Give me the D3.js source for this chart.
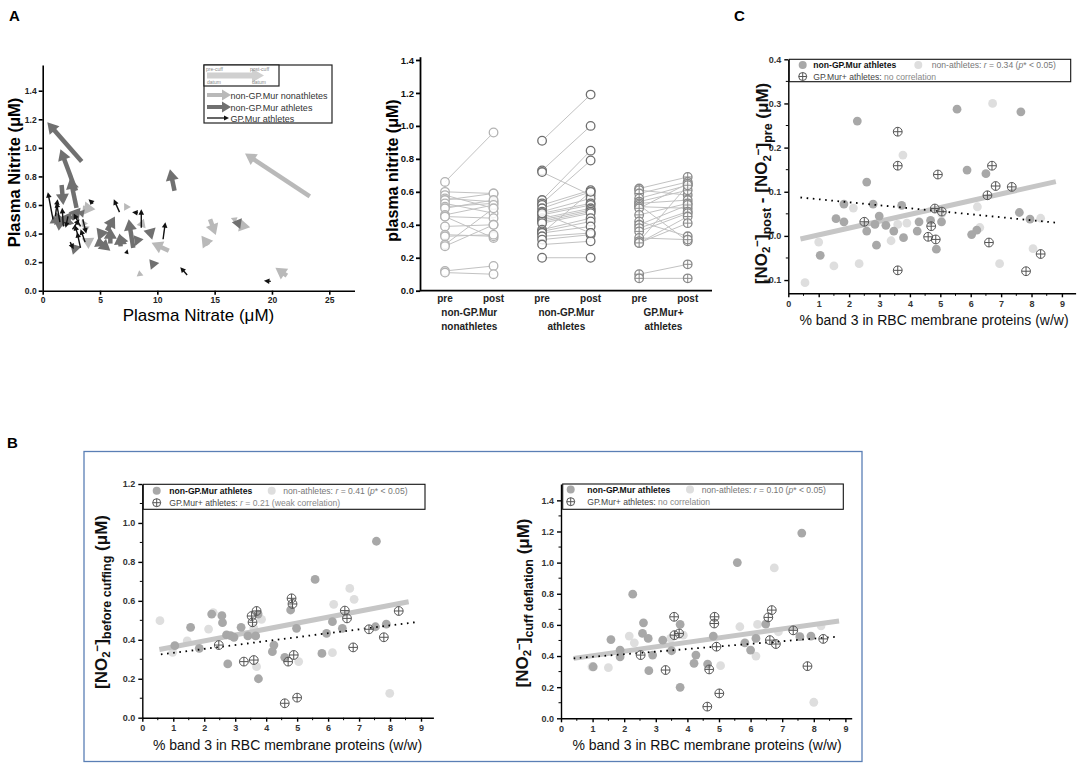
<!DOCTYPE html>
<html><head><meta charset="utf-8">
<script src="https://cdn.jsdelivr.net/npm/d3@7"></script>
<style>body{margin:0;background:#fff}svg{display:block}</style>
</head><body><svg id="c" width="1084" height="767"></svg>
<script>
// ================= DATA =================
// Panel A (left): arrows [nitrate pre, nitrite pre, nitrate post, nitrite post]
const arrowsNonathletes = [
  [23.3,0.66,17.65,0.96],[21.3,0.105,20.3,0.16],[8.6,0.125,8.2,0.10],[11.0,0.28,9.5,0.335],
  [14.6,0.50,15.1,0.39],[14.45,0.32,13.85,0.385],[17.1,0.46,18.1,0.445],[16.6,0.49,17.0,0.515],
  [7.4,0.60,7.1,0.56],[8.9,0.47,8.2,0.46],[3.5,0.58,4.6,0.57],[3.7,0.33,4.5,0.37],
  [3.4,0.47,3.95,0.47],[3.6,0.43,4.1,0.45]
];
const arrowsAthletes = [
  [3.4,0.905,0.4,1.18],[2.9,0.70,1.55,0.99],[2.95,0.58,2.4,0.79],[11.5,0.70,11.1,0.85],
  [1.65,0.74,1.8,0.60],[1.6,0.52,1.0,0.46],[1.5,0.51,1.4,0.42],[1.9,0.48,2.5,0.55],
  [2.5,0.50,3.3,0.58],[3.0,0.28,2.4,0.33],[5.3,0.38,4.7,0.44],[5.6,0.42,6.3,0.52],
  [5.0,0.31,4.9,0.38],[5.9,0.33,5.9,0.44],[5.0,0.34,5.9,0.28],[6.8,0.31,6.7,0.40],
  [7.1,0.37,6.6,0.32],[7.9,0.30,7.5,0.50],[8.0,0.35,8.8,0.36],[9.7,0.40,8.8,0.42],
  [9.8,0.17,9.3,0.22],[17.3,0.47,16.5,0.48],[1.2,0.50,0.6,0.47],[3.6,0.54,3.0,0.55],
  [2.3,0.46,2.1,0.52]
];
const arrowsGPMur = [
  [0.9,0.50,0.45,0.69],[1.1,0.52,1.3,0.64],[1.5,0.48,1.2,0.62],[1.8,0.45,1.7,0.58],
  [2.2,0.52,2.0,0.44],[2.6,0.43,3.2,0.50],[3.3,0.45,2.7,0.54],[3.3,0.30,3.0,0.41],
  [3.7,0.34,3.3,0.43],[3.1,0.38,2.8,0.46],[4.4,0.61,4.0,0.64],[6.7,0.55,6.2,0.64],
  [8.3,0.545,7.8,0.55],[8.6,0.44,8.6,0.57],[10.5,0.36,10.7,0.48],[12.6,0.11,12.0,0.165],
  [19.9,0.065,19.3,0.07],[7.3,0.26,7.4,0.29],[2.4,0.34,2.7,0.29],[3.5,0.50,3.8,0.40]
];
const aLeftXTicks = [0,5,10,15,20,25];
const aLeftYTicks = [0,0.2,0.4,0.6,0.8,1.0,1.2,1.4];

// Panel A (right): pre/post plasma nitrite
const prePostCats = ["pre1","post1","pre2","post2","pre3","post3"];
const prePostLabels = ["pre","post","pre","post","pre","post"];
const groupNames = [["non-GP.Mur","nonathletes"],["non-GP.Mur","athletes"],["GP.Mur+","athletes"]];
const nonathletesPre  = [0.66,0.60,0.58,0.56,0.55,0.53,0.51,0.50,0.46,0.45,0.45,0.39,0.34,0.33,0.28,0.27,0.12,0.11];
const nonathletesPost = [0.96,0.59,0.50,0.54,0.59,0.47,0.53,0.55,0.52,0.44,0.32,0.40,0.33,0.34,0.50,0.40,0.15,0.10];
const athletesPre  = [0.91,0.73,0.72,0.55,0.53,0.52,0.50,0.48,0.47,0.46,0.44,0.43,0.42,0.41,0.37,0.36,0.35,0.35,0.33,0.31,0.28,0.20,0.47];
const athletesPost = [1.19,1.00,0.58,0.85,0.79,0.61,0.60,0.56,0.53,0.52,0.50,0.49,0.48,0.47,0.44,0.42,0.39,0.60,0.35,0.34,0.30,0.20,0.35];
const gpmurPre  = [0.62,0.61,0.59,0.56,0.54,0.53,0.52,0.51,0.50,0.46,0.42,0.40,0.38,0.36,0.32,0.30,0.29,0.29,0.10,0.075];
const gpmurPost = [0.69,0.58,0.66,0.64,0.61,0.55,0.30,0.50,0.65,0.53,0.33,0.52,0.48,0.47,0.31,0.64,0.45,0.41,0.16,0.075];

// Panel B (left): nitrite before cuffing vs % band 3
const bLeftAthletes = [[1.05,0.37],[1.56,0.464],[1.84,0.356],[2.24,0.532],[2.57,0.524],[2.59,0.488],[2.72,0.425],[2.76,0.276],[2.85,0.421],[2.96,0.413],[3.19,0.464],[3.41,0.42],[3.66,0.42],[3.74,0.532],[3.75,0.20],[4.2,0.339],[4.25,0.373],[4.6,0.31],[4.79,0.553],[4.98,0.459],[5.58,0.71],[5.8,0.33],[5.95,0.433],[6.14,0.493],[6.46,0.459],[7.53,0.467],[7.56,0.906],[7.88,0.48]];
const bLeftNonathletes = [[0.57,0.498],[0.98,0.336],[1.45,0.394],[2.14,0.455],[2.29,0.54],[3.6,0.46],[3.69,0.262],[3.85,0.505],[5.05,0.288],[6.14,0.334],[6.18,0.582],[6.7,0.664],[6.84,0.608],[7.99,0.125]];
const bLeftGPMur = [[2.47,0.373],[3.28,0.288],[3.53,0.522],[3.56,0.49],[3.6,0.296],[3.69,0.548],[4.6,0.074],[4.71,0.288],[4.82,0.613],[4.85,0.584],[4.89,0.322],[5.0,0.103],[6.54,0.55],[6.61,0.51],[6.81,0.361],[7.32,0.454],[7.8,0.413],[8.28,0.548]];
const bLeftFitSolid = [[0.55,0.35],[8.6,0.595]];
const bLeftFitDotted = [[0.6,0.325],[8.8,0.49]];
const bLeftYTicks = [0,0.2,0.4,0.6,0.8,1.0,1.2];

// Panel B (right): nitrite at cuff deflation vs % band 3
const bRightAthletes = [[1.02,0.331],[1.58,0.506],[1.87,0.395],[1.87,0.438],[2.27,0.797],[2.58,0.545],[2.61,0.613],[2.76,0.513],[2.78,0.306],[2.9,0.406],[3.22,0.502],[3.5,0.434],[3.77,0.603],[3.77,0.199],[4.21,0.353],[4.27,0.406],[4.64,0.348],[4.82,0.528],[5.58,1.0],[5.82,0.485],[6.0,0.438],[6.17,0.513],[6.48,0.605],[7.56,0.524],[7.62,1.19],[7.91,0.528]];
const bRightNonathletes = [[0.98,0.331],[1.5,0.325],[2.16,0.528],[2.32,0.485],[3.47,0.513],[3.87,0.534],[5.05,0.338],[5.66,0.588],[6.17,0.40],[6.22,0.603],[6.75,0.966],[6.88,0.556],[8.0,0.103],[8.23,0.594]];
const bRightGPMur = [[2.52,0.406],[3.31,0.31],[3.58,0.652],[3.59,0.534],[3.74,0.545],[4.63,0.075],[4.69,0.314],[4.85,0.609],[4.86,0.652],[4.92,0.46],[5.01,0.16],[6.56,0.648],[6.61,0.502],[6.67,0.695],[6.8,0.477],[7.35,0.565],[7.8,0.335],[8.3,0.51]];
const bRightFitSolid = [[0.4,0.385],[8.8,0.625]];
const bRightFitDotted = [[0.4,0.385],[8.8,0.525]];
const bRightYTicks = [0,0.2,0.4,0.6,0.8,1.0,1.2,1.4];

// Panel C: change in nitrite (post - pre) vs % band 3
const cAthletes = [[1.05,-0.044],[1.57,0.039],[1.83,0.032],[1.83,0.072],[2.27,0.26],[2.58,0.122],[2.58,0.011],[2.79,0.072],[2.85,0.026],[2.9,-0.021],[2.99,0.045],[3.21,0.024],[3.47,0.011],[3.73,0.069],[3.79,-0.004],[4.24,0.011],[4.3,0.032],[4.68,0.035],[4.87,-0.03],[5.04,0.032],[5.55,0.287],[5.88,0.149],[6.03,0.003],[6.2,0.013],[6.5,0.141],[7.6,0.053],[7.65,0.281],[7.95,0.038]];
const cNonathletes = [[0.55,-0.106],[1.0,-0.014],[1.5,-0.068],[2.14,0.063],[2.33,-0.063],[3.38,-0.011],[3.6,0.026],[3.77,0.183],[3.9,0.029],[5.05,0.05],[6.22,0.066],[6.3,0.019],[6.72,0.30],[6.95,-0.063],[8.05,-0.029],[8.3,0.04]];
const cGPMur = [[2.5,0.032],[3.6,0.236],[3.6,0.159],[3.6,-0.078],[4.6,-0.002],[4.7,0.022],[4.82,0.062],[4.85,-0.008],[4.92,0.139],[5.05,0.055],[6.55,0.092],[6.6,-0.015],[6.7,0.159],[6.82,0.113],[7.35,0.111],[7.82,-0.08],[8.3,-0.041]];
const cFitSolid = [[0.4,-0.007],[8.8,0.123]];
const cFitDotted = [[0.4,0.087],[8.8,0.03]];
const cYTicks = [-0.1,0,0.1,0.2,0.3,0.4];
const band3Ticks = [0,1,2,3,4,5,6,7,8,9];

// ================= DRAWING =================
const FONT = '"Liberation Sans", Arial, Helvetica, sans-serif';
const svg = d3.select("#c").attr("font-family", FONT);

const C_LIGHT = "#dedede", C_MED = "#a8a8a8", C_CROSS = "#555";

function styleAxis(g, size, weight, color, sw) {
  g.selectAll("text").attr("font-family", FONT).attr("font-size", size)
    .attr("font-weight", weight).attr("fill", color || "#222");
  g.selectAll("line,path").attr("stroke", "#000").attr("stroke-width", sw || 1.3);
}
function panelLabel(t, x, y) {
  svg.append("text").attr("x", x).attr("y", y).text(t)
    .attr("font-size", 15).attr("font-weight", "bold").attr("fill", "#000");
}

// ---------- Panel A left ----------
panelLabel("A", 9, 21);
{
  const x = d3.scaleLinear([0, 27.2], [42.7, 354.5]);
  const y = d3.scaleLinear([0, 1.58], [290.7, 65]);
  const gx = svg.append("g").attr("transform", "translate(0,290.7)")
    .call(d3.axisBottom(x).tickValues(aLeftXTicks).tickFormat(d3.format("d")).tickSize(4).tickSizeOuter(0).tickPadding(2.5));
  styleAxis(gx, 8.5, "bold", "#222", 1.6);
  const gy = svg.append("g").attr("transform", "translate(42.7,0)")
    .call(d3.axisLeft(y).tickValues(aLeftYTicks).tickFormat(d3.format(".1f")).tickSize(4).tickSizeOuter(0).tickPadding(2));
  styleAxis(gy, 8.5, "bold", "#222", 1.6);

  const g = svg.append("g");
  function arrow(gg, x0, y0, x1, y1, color, w, hl, hw) {
    const dx = x1 - x0, dy = y1 - y0, L = Math.hypot(dx, dy) || 1;
    const ux = dx / L, uy = dy / L;
    const h = Math.min(hl, L);
    const s = h / hl;
    const bx = x1 - ux * h, by = y1 - uy * h;
    if (L > h) gg.append("line").attr("x1", x0).attr("y1", y0).attr("x2", bx + ux * 1).attr("y2", by + uy * 1)
      .attr("stroke", color).attr("stroke-width", w);
    gg.append("polygon").attr("points",
      [[x1, y1], [bx - uy * hw * s, by + ux * hw * s], [bx + uy * hw * s, by - ux * hw * s]].map(p => p.join(",")).join(" "))
      .attr("fill", color);
  }
  arrowsNonathletes.forEach(a => arrow(g, x(a[0]), y(a[1]), x(a[2]), y(a[3]), "#b9b9b9", 4.5, 11, 6.5));
  arrowsAthletes.forEach(a => arrow(g, x(a[0]), y(a[1]), x(a[2]), y(a[3]), "#707070", 4.5, 11, 6.5));
  arrowsGPMur.forEach(a => arrow(g, x(a[0]), y(a[1]), x(a[2]), y(a[3]), "#111", 1.4, 5.5, 2.8));

  // legend
  const lg = svg.append("g");
  lg.append("rect").attr("x", 204).attr("y", 65).attr("width", 128).attr("height", 58)
    .attr("fill", "#fff").attr("stroke", "#222").attr("stroke-width", 1.2);
  lg.append("rect").attr("x", 204).attr("y", 65).attr("width", 75).attr("height", 21)
    .attr("fill", "#fff").attr("stroke", "#222").attr("stroke-width", 1.2);
  arrow(lg, 207, 75.5, 264, 75.5, "#d0d0d0", 6, 12, 7);
  const tiny = [["pre-cuff", 206, 70.5], ["post-cuff", 250, 70.5], ["datum", 207, 84], ["datum", 252, 84]];
  tiny.forEach(t => lg.append("text").attr("x", t[1]).attr("y", t[2]).text(t[0])
    .attr("font-size", 5).attr("fill", "#888"));
  arrow(lg, 207, 95, 231, 95, "#b9b9b9", 4, 9, 5.5);
  arrow(lg, 207, 107, 231, 107, "#707070", 4, 9, 5.5);
  arrow(lg, 207, 118, 229, 118, "#111", 1.3, 5, 2.5);
  [["non-GP.Mur nonathletes", 98.5], ["non-GP.Mur athletes", 110.5], ["GP.Mur athletes", 121.5]].forEach(t =>
    lg.append("text").attr("x", 230.5).attr("y", t[1]).text(t[0]).attr("font-size", 9).attr("fill", "#333"));

  svg.append("text").attr("x", 198.5).attr("y", 321).attr("text-anchor", "middle")
    .attr("font-size", 17).attr("fill", "#000").text("Plasma Nitrate (μM)");
  svg.append("text").attr("transform", "translate(14.5,172.5) rotate(-90)").attr("dy", "0.36em")
    .attr("text-anchor", "middle").attr("font-size", 16.5).attr("font-weight", "bold").attr("fill", "#000")
    .text("Plasma Nitrite (μM)");
}

// ---------- Panel A right ----------
{
  const x = d3.scalePoint(prePostCats, [445, 687.7]);
  const y = d3.scaleLinear([0, 1.42], [290.7, 56.7]);
  const gy = svg.append("g").attr("transform", "translate(420,0)")
    .call(d3.axisLeft(y).tickValues([0,0.2,0.4,0.6,0.8,1.0,1.2,1.4]).tickFormat(d3.format(".1f")).tickSize(4).tickSizeOuter(0).tickPadding(2));
  styleAxis(gy, 9.5, "bold", "#111", 1.8);
  svg.append("line").attr("x1", 420).attr("x2", 712).attr("y1", 290.7).attr("y2", 290.7)
    .attr("stroke", "#000").attr("stroke-width", 1.8);

  const groups = [
    { pre: nonathletesPre, post: nonathletesPost, c: ["pre1", "post1"], col: "#b3b3b3", cross: false },
    { pre: athletesPre, post: athletesPost, c: ["pre2", "post2"], col: "#6f6f6f", cross: false },
    { pre: gpmurPre, post: gpmurPost, c: ["pre3", "post3"], col: "#8a8a8a", cross: true }
  ];
  const g = svg.append("g");
  groups.forEach(gr => {
    gr.pre.forEach((v, i) => g.append("line")
      .attr("x1", x(gr.c[0])).attr("y1", y(v)).attr("x2", x(gr.c[1])).attr("y2", y(gr.post[i]))
      .attr("stroke", "#c2c2c2").attr("stroke-width", 1));
  });
  groups.forEach(gr => {
    [[gr.pre, gr.c[0]], [gr.post, gr.c[1]]].forEach(([vals, cat]) => {
      vals.forEach(v => {
        const cx = x(cat), cy = y(v);
        g.append("circle").attr("cx", cx).attr("cy", cy).attr("r", 4.3)
          .attr("fill", "#fff").attr("fill-opacity", 0.85).attr("stroke", gr.col).attr("stroke-width", 1.3);
        if (gr.cross) {
          g.append("line").attr("x1", cx - 4.3).attr("x2", cx + 4.3).attr("y1", cy).attr("y2", cy).attr("stroke", gr.col).attr("stroke-width", 1);
          g.append("line").attr("x1", cx).attr("x2", cx).attr("y1", cy - 4.3).attr("y2", cy + 4.3).attr("stroke", gr.col).attr("stroke-width", 1);
        }
      });
    });
  });
  prePostCats.forEach((c, i) => svg.append("text").attr("x", x(c)).attr("y", 301.5)
    .attr("text-anchor", "middle").attr("font-size", 10).attr("font-weight", "bold").attr("fill", "#222").text(prePostLabels[i]));
  groupNames.forEach((gn, i) => {
    const cx = (x(prePostCats[2 * i]) + x(prePostCats[2 * i + 1])) / 2;
    svg.append("text").attr("x", cx).attr("y", 316).attr("text-anchor", "middle")
      .attr("font-size", 10).attr("font-weight", "bold").attr("fill", "#222").text(gn[0]);
    svg.append("text").attr("x", cx).attr("y", 330).attr("text-anchor", "middle")
      .attr("font-size", 10).attr("font-weight", "bold").attr("fill", "#222").text(gn[1]);
  });
  svg.append("text").attr("transform", "translate(392.5,170.5) rotate(-90)").attr("dy", "0.36em")
    .attr("text-anchor", "middle").attr("font-size", 16).attr("font-weight", "bold").attr("fill", "#000")
    .text("plasma nitrite (μM)");
}

// ---------- Scatter helper for B / C ----------
function crossCircle(g, cx, cy, r) {
  g.append("circle").attr("cx", cx).attr("cy", cy).attr("r", r).attr("fill", "none")
    .attr("stroke", C_CROSS).attr("stroke-width", 1);
  g.append("line").attr("x1", cx - r).attr("x2", cx + r).attr("y1", cy).attr("y2", cy).attr("stroke", C_CROSS).attr("stroke-width", 1);
  g.append("line").attr("x1", cx).attr("x2", cx).attr("y1", cy - r).attr("y2", cy + r).attr("stroke", C_CROSS).attr("stroke-width", 1);
}
function scatterPanel(o) {
  const x = o.x, y = o.y;
  const gx = svg.append("g").attr("transform", `translate(0,${o.y0})`)
    .call(d3.axisBottom(x).tickValues(band3Ticks).tickFormat(d3.format("d")).tickSize(4).tickSizeOuter(0).tickPadding(3));
  styleAxis(gx, 9, "bold", "#333", 1.4);
  d3.range(0.5, 9.5, 1).forEach(v => svg.append("line").attr("x1", x(v)).attr("x2", x(v)).attr("y1", o.y0).attr("y2", o.y0 + 2.5)
    .attr("stroke", "#000").attr("stroke-width", 1));
  const gy = svg.append("g").attr("transform", `translate(${o.x0},0)`)
    .call(d3.axisLeft(y).tickValues(o.yTicks).tickFormat(d3.format(".1f")).tickSize(4).tickSizeOuter(0).tickPadding(3));
  styleAxis(gy, 9, "bold", "#333", 1.4);
  o.yMinor.forEach(v => svg.append("line").attr("x1", o.x0).attr("x2", o.x0 - 2.5).attr("y1", y(v)).attr("y2", y(v))
    .attr("stroke", "#000").attr("stroke-width", 1));

  const g = svg.append("g");
  const line = d3.line().x(d => x(d[0])).y(d => y(d[1]));
  o.light.forEach(d => g.append("circle").attr("cx", x(d[0])).attr("cy", y(d[1])).attr("r", 4.4).attr("fill", C_LIGHT));
  g.append("path").attr("d", line(o.fitSolid)).attr("stroke", "#c6c6c6").attr("stroke-width", 5).attr("fill", "none");
  o.med.forEach(d => g.append("circle").attr("cx", x(d[0])).attr("cy", y(d[1])).attr("r", 4.4).attr("fill", C_MED));
  g.append("path").attr("d", line(o.fitDotted)).attr("stroke", "#000").attr("stroke-width", 1.8)
    .attr("stroke-dasharray", "1.6,4.6").attr("fill", "none");
  o.cross.forEach(d => crossCircle(g, x(d[0]), y(d[1]), 4.4));

  const L = o.legend;
  const lg = svg.append("g");
  lg.append("rect").attr("x", L.x).attr("y", L.y).attr("width", L.w).attr("height", L.h)
    .attr("fill", "#fff").attr("stroke", "#111").attr("stroke-width", 1.1);
  lg.append("circle").attr("cx", L.c1).attr("cy", L.r1).attr("r", 4).attr("fill", C_MED);
  lg.append("text").attr("x", L.t1).attr("y", L.r1 + 3).attr("font-size", 8.6).attr("font-weight", "bold")
    .attr("fill", "#111").text("non-GP.Mur athletes");
  lg.append("circle").attr("cx", L.c2).attr("cy", L.r1).attr("r", 4).attr("fill", C_LIGHT);
  const t2 = lg.append("text").attr("x", L.t2).attr("y", L.r1 + 3).attr("font-size", 8.6).attr("fill", "#777");
  t2.append("tspan").text("non-athletes: ");
  t2.append("tspan").attr("font-style", "italic").text("r");
  t2.append("tspan").text(" = " + L.r + " (");
  t2.append("tspan").attr("font-style", "italic").text("p");
  t2.append("tspan").text("* < 0.05)");
  crossCircle(lg, L.c1, L.r2, 4);
  const t3 = lg.append("text").attr("x", L.t1).attr("y", L.r2 + 3).attr("font-size", 8.6);
  t3.append("tspan").attr("fill", "#444").text("GP.Mur+ athletes: ");
  L.gp.forEach(p => t3.append("tspan").attr("fill", "#888").attr("font-style", p[1] ? "italic" : "normal").text(p[0]));

  svg.append("text").attr("x", o.xTitleX).attr("y", o.xTitleY).attr("text-anchor", "middle")
    .attr("font-size", 14).attr("fill", "#111").text("% band 3 in RBC membrane proteins (w/w)");
  const yt = svg.append("text").attr("transform", `translate(${o.yTitle[0]},${o.yTitle[1]}) rotate(-90)`)
    .attr("text-anchor", "middle").attr("font-weight", "bold").attr("fill", "#111").attr("dy", "0.36em");
  o.yParts.forEach(p => yt.append("tspan").attr("font-size", p[1]).attr("dy", p[2]).text(p[0]));
}

// ---------- Panel C ----------
panelLabel("C", 734, 21);
scatterPanel({
  x: d3.scaleLinear([0, 9.45], [788.3, 1075.6]),
  y: d3.scaleLinear([-0.13, 0.4], [293.3, 59.3]),
  x0: 788.3, y0: 293.3,
  yTicks: cYTicks, yMinor: [-0.05, 0.05, 0.15, 0.25, 0.35],
  light: cNonathletes, med: cAthletes, cross: cGPMur,
  fitSolid: cFitSolid, fitDotted: cFitDotted,
  legend: { x: 789.3, y: 59.3, w: 281.4, h: 22.4, r1: 65, r2: 76.5, c1: 802.7, t1: 813.3, c2: 918.3, t2: 931.7, r: "0.34",
    gp: [["no correlation", false]] },
  xTitleX: 934, xTitleY: 325,
  yTitle: [766.5, 183.5],
  yParts: [["[NO", 17, 0], ["2", 11.5, "0.3em"], ["−", 11.5, "-0.75em"], ["]", 17, "0.35em"], ["post", 12.5, "0.3em"],
           [" - [NO", 17, "-0.22em"], ["2", 11.5, "0.3em"], ["−", 11.5, "-0.75em"], ["]", 17, "0.35em"], ["pre", 12.5, "0.3em"], [" (μM)", 17, "-0.22em"]]
});

// ---------- Panel B ----------
panelLabel("B", 7, 448);
svg.append("rect").attr("x", 84).attr("y", 451.5).attr("width", 778).attr("height", 310)
  .attr("fill", "none").attr("stroke", "#5a7fb5").attr("stroke-width", 1.3);

scatterPanel({
  x: d3.scaleLinear([0, 9.4], [142.3, 433.4]),
  y: d3.scaleLinear([0, 1.2], [717.7, 484]),
  x0: 142.3, y0: 717.7,
  yTicks: bLeftYTicks, yMinor: [0.1, 0.3, 0.5, 0.7, 0.9, 1.1],
  light: bLeftNonathletes, med: bLeftAthletes, cross: bLeftGPMur,
  fitSolid: bLeftFitSolid, fitDotted: bLeftFitDotted,
  legend: { x: 143.3, y: 484.3, w: 281.7, h: 25, r1: 490.7, r2: 502.7, c1: 156.7, t1: 169.3, c2: 271.7, t2: 283.3, r: "0.41",
    gp: [["r", true], [" = 0.21 (weak correlation)", false]] },
  xTitleX: 287.5, xTitleY: 749.5,
  yTitle: [106.5, 602],
  yParts: [["[NO", 17, 0], ["2", 11.5, "0.3em"], ["−", 11.5, "-0.75em"], ["]", 17, "0.35em"], ["before cuffing", 12.5, "0.3em"], [" (μM)", 17, "-0.22em"]]
});

scatterPanel({
  x: d3.scaleLinear([0, 9.2], [561, 851.7]),
  y: d3.scaleLinear([0, 1.505], [718.3, 484]),
  x0: 561, y0: 718.3,
  yTicks: bRightYTicks, yMinor: [0.1, 0.3, 0.5, 0.7, 0.9, 1.1, 1.3],
  light: bRightNonathletes, med: bRightAthletes, cross: bRightGPMur,
  fitSolid: bRightFitSolid, fitDotted: bRightFitDotted,
  legend: { x: 562.7, y: 484, w: 280.6, h: 25.3, r1: 489.5, r2: 501.7, c1: 570.7, t1: 587.3, c2: 690, t2: 701.7, r: "0.10",
    gp: [["no correlation", false]] },
  xTitleX: 707, xTitleY: 749.5,
  yTitle: [528, 603],
  yParts: [["[NO", 17, 0], ["2", 11.5, "0.3em"], ["−", 11.5, "-0.75em"], ["]", 17, "0.35em"], ["cuff deflation", 12.5, "0.3em"], [" (μM)", 17, "-0.22em"]]
});
</script></body></html>
